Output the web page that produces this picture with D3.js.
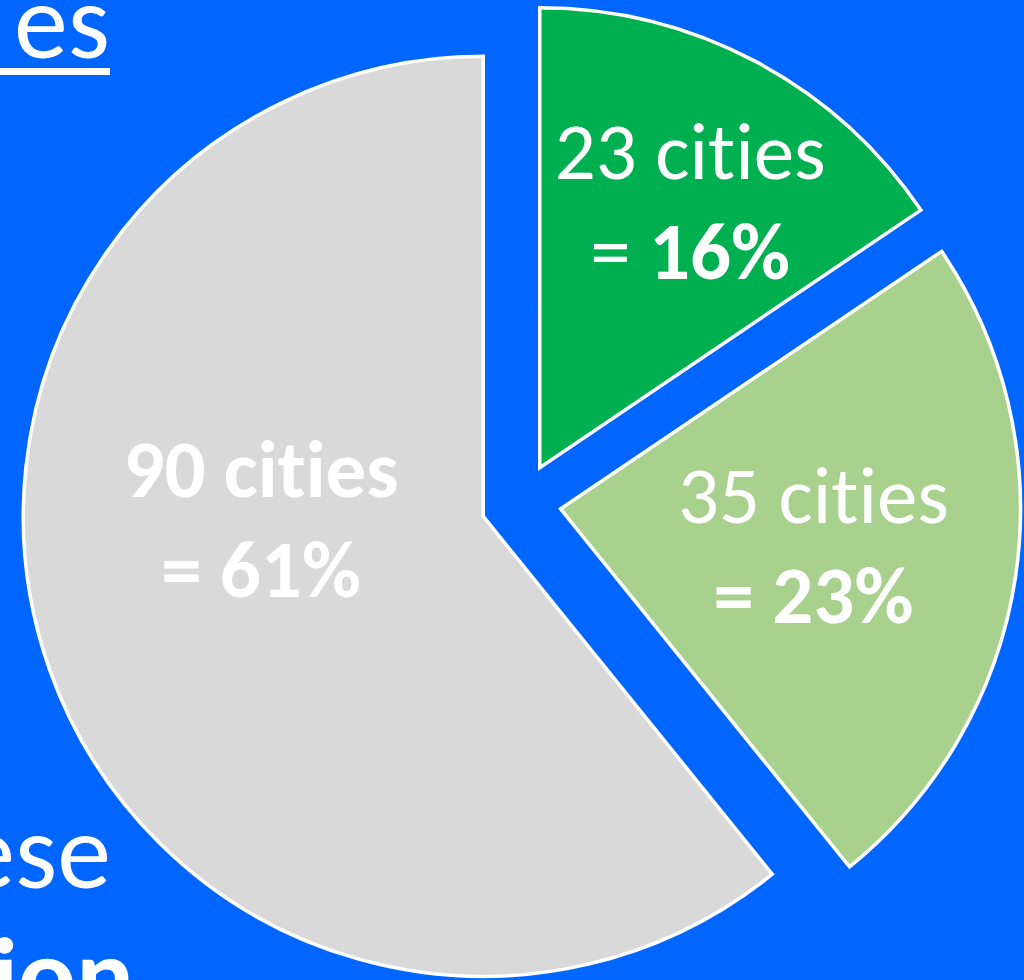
<!DOCTYPE html>
<html>
<head>
<meta charset="utf-8">
<script src="https://cdn.jsdelivr.net/npm/d3@7"></script>
<style>
  html, body { margin: 0; padding: 0; background: #0066FF; }
  svg { display: block; }
  text { font-family: Carlito, Calibri, Lato, "Open Sans", sans-serif; fill: #ffffff;
         font-variant-ligatures: none; font-feature-settings: "liga" 0; }
</style>
</head>
<body>
<div id="vis-container"></div>
<script>
// data
var groups = ["group A", "group B", "group C"];
var cityCounts = [23, 35, 90];
var percentLabels = ["16%", "23%", "61%"];

// styles (kept apart from the data)
var sliceColors = ["#00B050", "#A9D18E", "#D9D9D9"];
var firstLineBold = [false, false, true];
var equalsBold = [false, true, true];
// hand nudges for label placement, like PowerPoint's "best fit"
var labelNudge = [[21, -22], [-20, -4], [38, -88]];

var width = 1024;
var height = 980;

var center = { x: 521, y: 503 };
var radius = 460;
var explode = 40;
var fontSize = 81;
var lineGap = 100;

var svg = d3.select("#vis-container").append("svg")
    .attr("width", width)
    .attr("height", height);

svg.append("rect")
    .attr("width", width)
    .attr("height", height)
    .attr("fill", "#0066FF");

// fragments of the surrounding slide text that show at the crop edge
svg.append("text")
    .attr("x", 110).attr("y", 58)
    .attr("text-anchor", "end")
    .attr("font-size", 108)
    .text("es");
svg.append("rect")
    .attr("x", 0).attr("y", 68)
    .attr("width", 110).attr("height", 7)
    .attr("fill", "#ffffff");
svg.append("text")
    .attr("x", 111).attr("y", 888)
    .attr("text-anchor", "end")
    .attr("font-size", 108)
    .text("ese");
svg.append("text")
    .attr("x", 134).attr("y", 1012)
    .attr("text-anchor", "end")
    .attr("font-size", 108)
    .attr("font-weight", "bold")
    .text("ion");

var pieData = cityCounts.map(function(c, i) {
    return { group: groups[i], count: c, pct: percentLabels[i], i: i };
});

var pie = d3.pie()
    .sort(null)
    .value(d => d.count);

var arc = d3.arc()
    .innerRadius(0)
    .outerRadius(radius);

var arcs = pie(pieData);

function offset(d, r) {
    var mid = (d.startAngle + d.endAngle) / 2;
    return [Math.sin(mid) * r, -Math.cos(mid) * r];
}

var slices = svg.append("g").selectAll("g")
    .data(arcs)
    .enter().append("g")
    .attr("transform", function(d) {
        var o = offset(d, explode);
        return "translate(" + (center.x + o[0]) + "," + (center.y + o[1]) + ")";
    });

slices.append("path")
    .attr("d", arc)
    .attr("fill", d => sliceColors[d.data.i])
    .attr("stroke", "#ffffff")
    .attr("stroke-width", 3.5)
    .attr("stroke-linejoin", "miter");

var labels = slices.append("text")
    .attr("text-anchor", "middle")
    .attr("font-size", fontSize)
    .attr("transform", function(d) {
        var o = offset(d, radius * 0.6);
        var n = labelNudge[d.data.i];
        return "translate(" + (o[0] + n[0]) + "," + (o[1] + n[1]) + ")";
    });

labels.append("tspan")
    .attr("x", 0)
    .attr("y", -23)
    .attr("font-weight", d => firstLineBold[d.data.i] ? "bold" : "normal")
    .text(d => d.data.count + " cities");

var line2 = labels.append("tspan")
    .attr("x", 0)
    .attr("y", -23 + lineGap);

line2.append("tspan")
    .attr("font-weight", d => equalsBold[d.data.i] ? "bold" : "normal")
    .text("= ");
line2.append("tspan")
    .attr("font-weight", "bold")
    .text(d => d.data.pct);
</script>
</body>
</html>
